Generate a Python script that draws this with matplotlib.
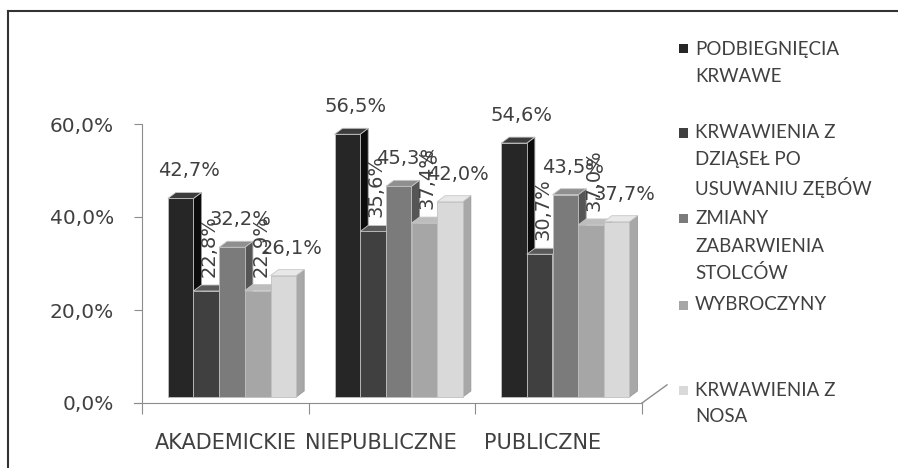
import numpy as np
import matplotlib.pyplot as plt
from matplotlib.patches import Polygon, Rectangle
from matplotlib.lines import Line2D
from matplotlib.transforms import ScaledTranslation

# --- data -------------------------------------------------------------
categories = ["AKADEMICKIE", "NIEPUBLICZNE", "PUBLICZNE"]
series_names = [
    ["PODBIEGNIĘCIA", "KRWAWE"],
    ["KRWAWIENIA Z", "DZIĄSEŁ PO", "USUWANIU ZĘBÓW"],
    ["ZMIANY", "ZABARWIENIA", "STOLCÓW"],
    ["WYBROCZYNY"],
    ["KRWAWIENIA Z", "NOSA"],
]
podbiegniecia = [42.7, 56.5, 54.6]
dziasla = [22.8, 35.6, 30.7]
stolce = [32.2, 45.3, 43.5]
wybroczyny = [22.9, 37.4, 37.0]
nos = [26.1, 42.0, 37.7]
series_values = [podbiegniecia, dziasla, stolce, wybroczyny, nos]
yticks = [0, 20, 40, 60]

# greys for front / side / top faces of the pseudo-3D columns
front_cols = ["#262626", "#404040", "#7b7b7b", "#a6a6a6", "#d9d9d9"]
side_cols = ["#0c0c0c", "#222222", "#555555", "#828282", "#a8a8a8"]
top_cols = ["#3c3c3c", "#5a5a5a", "#8f8f8f", "#bdbdbd", "#e8e8e8"]
vertical_label = [False, True, False, True, False]
txt_col = "#404040"

W, H = 898, 468
fig = plt.figure(figsize=(W / 100, H / 100), dpi=100)
ax = fig.add_axes([142 / W, (H - 403) / H, 500 / W, 279 / H])
ax.set_xlim(-0.5, 2.5)
ax.set_ylim(0, 60)

# pixel -> data conversion for the column depth
xpp = 3.0 / 500
ypp = 60.0 / 279
depth_x, depth_y = 8 * xpp, 6 * ypp
lift = ax.transData + ScaledTranslation(0, 6 / 100, fig.dpi_scale_trans)

bar_w = 0.154
bar_shift = 0.04
n = len(series_values)
for i in range(len(categories)):
    for j, vals in enumerate(series_values):
        v = vals[i]
        x0 = i + bar_shift + (j - (n - 1) / 2) * bar_w - bar_w / 2
        x1 = x0 + bar_w
        side = Polygon([(x1, 0), (x1 + depth_x, depth_y), (x1 + depth_x, v + depth_y), (x1, v)],
                       closed=True, facecolor=side_cols[j], edgecolor="#9a9a9a",
                       linewidth=0.6, transform=lift, clip_on=False)
        top = Polygon([(x0, v), (x1, v), (x1 + depth_x, v + depth_y), (x0 + depth_x, v + depth_y)],
                      closed=True, facecolor=top_cols[j], edgecolor="#c8c8c8",
                      linewidth=0.6, transform=lift, clip_on=False)
        front = Rectangle((x0, 0), bar_w, v, facecolor=front_cols[j], edgecolor="#c0c0c0",
                          linewidth=0.6, transform=lift, clip_on=False)
        ax.add_patch(side)
        ax.add_patch(top)
        ax.add_patch(front)

# data labels drawn after all columns
for i in range(len(categories)):
    for j, vals in enumerate(series_values):
        v = vals[i]
        xc = i + bar_shift + (j - (n - 1) / 2) * bar_w
        label = f"{v:.1f}%".replace(".", ",")
        if vertical_label[j]:
            ax.annotate(label, (xc, v), xytext=(3, 20), textcoords="offset pixels",
                        rotation=90, ha="center", va="bottom", fontsize=14,
                        color=txt_col, annotation_clip=False)
        else:
            ax.annotate(label, (xc, v), xytext=(8, 24), textcoords="offset pixels",
                        ha="center", va="bottom", fontsize=14,
                        color=txt_col, annotation_clip=False)

# axes styling
for s in ["top", "right"]:
    ax.spines[s].set_visible(False)
ax.spines["left"].set_color("#8c8c8c")
ax.spines["bottom"].set_color("#8c8c8c")
ax.spines["bottom"].set_bounds(-0.55, 2.5)
ax.set_yticks(yticks)
ax.set_yticklabels([f"{t:.1f}%".replace(".", ",") for t in yticks], fontsize=14.5, color=txt_col)
ax.tick_params(axis="y", length=6, color="#8c8c8c", pad=14)
ax.set_xticks([-0.5, 0.5, 1.5, 2.5])
ax.set_xticklabels([])
ax.tick_params(axis="x", which="major", length=8, color="#8c8c8c")
ax.patch.set_alpha(0)

# category names sit a little left of centre, following the perspective
cat_nudge = [0, -11, -16]
for i, name in enumerate(categories):
    tr = ax.get_xaxis_transform() + ScaledTranslation(cat_nudge[i] / 100, -40 / 100,
                                                       fig.dpi_scale_trans)
    ax.text(i, 0, name, transform=tr, ha="center", va="center", fontsize=15, color=txt_col)

# floor edge running back on the right
ax.add_line(Line2D([1.0, 1.05], [0.0, 0.065], transform=ax.transAxes,
                   color="#8c8c8c", linewidth=1, clip_on=False))

# legend, one entry per series, lines spaced evenly
legend_y = [49, 133, 219, 305, 390]
line_step = 27
for j, lines in enumerate(series_names):
    y = 1 - legend_y[j] / H
    fig.patches.append(Rectangle((679 / W, y - 4.5 / H), 9 / W, 9 / H, transform=fig.transFigure,
                                 facecolor=front_cols[j], edgecolor="none"))
    for k, line in enumerate(lines):
        fig.text(695 / W, y - k * line_step / H, line, fontsize=13.5, family="Lato",
                 color=txt_col, va="center", ha="left")

# frame lines along top and left
fig.add_artist(Line2D([8 / W, 1], [1 - 11 / H, 1 - 11 / H], transform=fig.transFigure,
                      color="#333333", linewidth=1.5))
fig.add_artist(Line2D([8 / W, 8 / W], [0, 1 - 11 / H], transform=fig.transFigure,
                      color="#333333", linewidth=1.5))

fig.savefig("out.png", dpi=100)
